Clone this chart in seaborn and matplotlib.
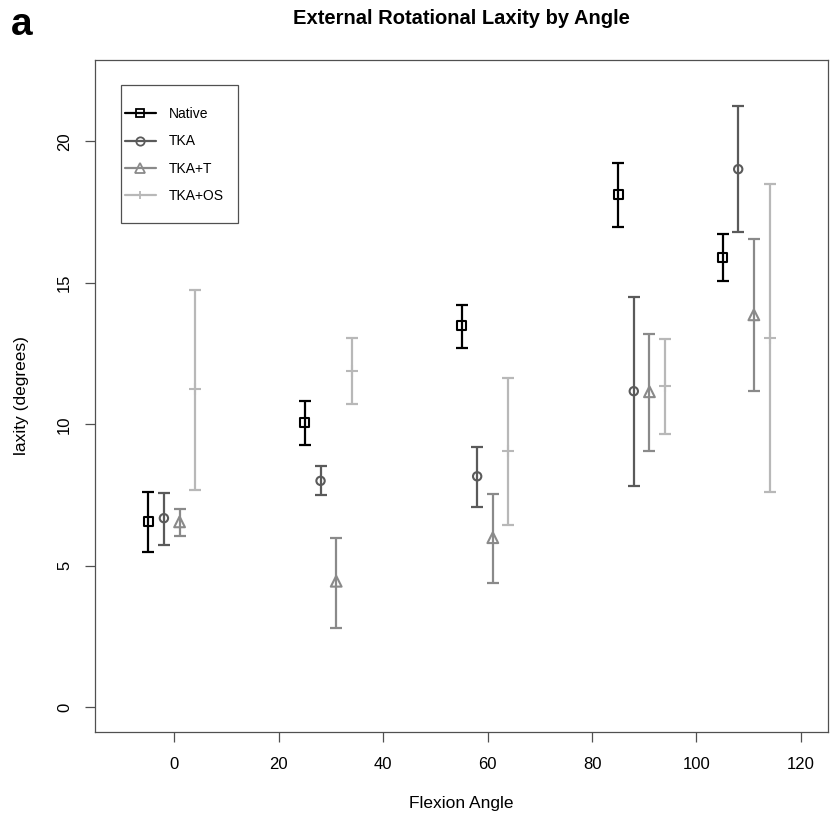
import matplotlib
matplotlib.use("Agg")
import matplotlib.pyplot as plt
from matplotlib.lines import Line2D
from matplotlib.patches import Rectangle
import seaborn as sns
import pandas as pd

# ---- data ----
angles = [0, 30, 60, 90, 110]
groups = ["Native", "TKA", "TKA+T", "TKA+OS"]
offsets = [-5, -2, 1, 4]

native_mean = [6.56, 10.07, 13.48, 18.14, 15.91]
native_lo = [5.50, 9.28, 12.71, 16.99, 15.07]
native_hi = [7.60, 10.84, 14.22, 19.23, 16.74]

tka_mean = [6.68, 8.00, 8.16, 11.17, 19.02]
tka_lo = [5.73, 7.51, 7.09, 7.82, 16.79]
tka_hi = [7.57, 8.51, 9.21, 14.50, 21.24]

tkat_mean = [6.55, 4.45, 5.99, 11.15, 13.87]
tkat_lo = [6.05, 2.80, 4.40, 9.07, 11.19]
tkat_hi = [7.00, 5.99, 7.53, 13.18, 16.54]

tkaos_mean = [11.23, 11.88, 9.04, 11.35, 13.06]
tkaos_lo = [7.67, 10.72, 6.44, 9.67, 7.62]
tkaos_hi = [14.74, 13.04, 11.64, 13.00, 18.51]

xticks = [0, 20, 40, 60, 80, 100, 120]
yticks = [0, 5, 10, 15, 20]

means = [native_mean, tka_mean, tkat_mean, tkaos_mean]
los = [native_lo, tka_lo, tkat_lo, tkaos_lo]
his = [native_hi, tka_hi, tkat_hi, tkaos_hi]

rows = []
for g, off, m, lo, hi in zip(groups, offsets, means, los, his):
    for a, mm, l, h in zip(angles, m, lo, hi):
        rows.append(dict(group=g, angle=a + off, laxity=mm, lo=l, hi=h))
df = pd.DataFrame(rows)

colors = {"Native": "#000000", "TKA": "#5a5a5a", "TKA+T": "#8a8a8a", "TKA+OS": "#b8b8b8"}
markers = {"Native": "s", "TKA": "o", "TKA+T": "^", "TKA+OS": "+"}
sizes = {"Native": 42, "TKA": 36, "TKA+T": 60, "TKA+OS": 85}

# ---- figure ----
sns.set_style("ticks")
plt.rcParams["font.family"] = ["Liberation Sans", "DejaVu Sans"]
plt.rcParams["text.color"] = "black"

W, H = 832, 821
fig = plt.figure(figsize=(W / 100, H / 100), dpi=100)
ax = fig.add_axes([95 / W, 1 - 732 / H, (828 - 95) / W, (732 - 60) / H])

for g in groups:
    d = df[df.group == g]
    c = colors[g]
    ax.errorbar(d.angle, d.laxity, yerr=[d.laxity - d.lo, d.hi - d.laxity],
                fmt="none", ecolor=c, elinewidth=1.6, capsize=4.6, capthick=1.6, zorder=2)
    fc = c if markers[g] == "+" else "none"
    sns.scatterplot(data=d, x="angle", y="laxity", ax=ax, marker=markers[g], s=sizes[g],
                    facecolor=fc, edgecolor=c, color=c, linewidth=1.5, zorder=3, legend=False)

ax.set_xlim(-15.2, 125.2)
ax.set_ylim(-0.88, 22.88)
ax.set_xticks(xticks)
ax.set_yticks(yticks)
ax.set_yticklabels([str(v) for v in yticks], rotation=90, va="center")
ax.tick_params(axis="both", direction="out", length=7.2, width=0.9, labelsize=12,
               color="#505050", labelcolor="black")
ax.tick_params(axis="x", pad=10.5)
ax.tick_params(axis="y", pad=9.4)
for sp in ax.spines.values():
    sp.set_visible(True)
    sp.set_linewidth(0.9)
    sp.set_color("#505050")

ax.set_xlabel("Flexion Angle", fontsize=12.5, va="center", color="black")
ax.set_ylabel("laxity (degrees)", fontsize=12.5, va="center", color="black")
ax.xaxis.set_label_coords(0.5, (732 - 803) / 672)
ax.yaxis.set_label_coords((21.7 - 95) / 733, 0.5)

fig.text(461 / W, 1 - 19 / H, "External Rotational Laxity by Angle", ha="center", va="center",
         fontsize=14.5, fontweight="bold", color="black")
fig.text(11 / W, 1 - 25 / H, "a", ha="left", va="center", fontsize=28, fontweight="bold",
         color="black")

# legend
handles = [Line2D([0], [0], color=colors[g], marker=markers[g], markersize=6 if g != "TKA+T" else 7,
                  markerfacecolor="none", markeredgecolor=colors[g], markeredgewidth=1.3, lw=1.6)
           for g in groups]
leg = ax.legend(handles, groups, loc="upper left", bbox_to_anchor=(115 / W, 1 - 97.5 / H),
                bbox_transform=fig.transFigure, frameon=False, fontsize=10,
                handlelength=2.23, handletextpad=0.93, labelspacing=0.95, borderpad=0.2)
for t in leg.get_texts():
    t.set_color("black")
fig.patches.append(Rectangle((121 / W, 1 - 223 / H), (238 - 121) / W, (223 - 85) / H,
                             transform=fig.transFigure, fill=False, lw=0.9, ec="#505050"))

fig.savefig("out.png", dpi=100)
